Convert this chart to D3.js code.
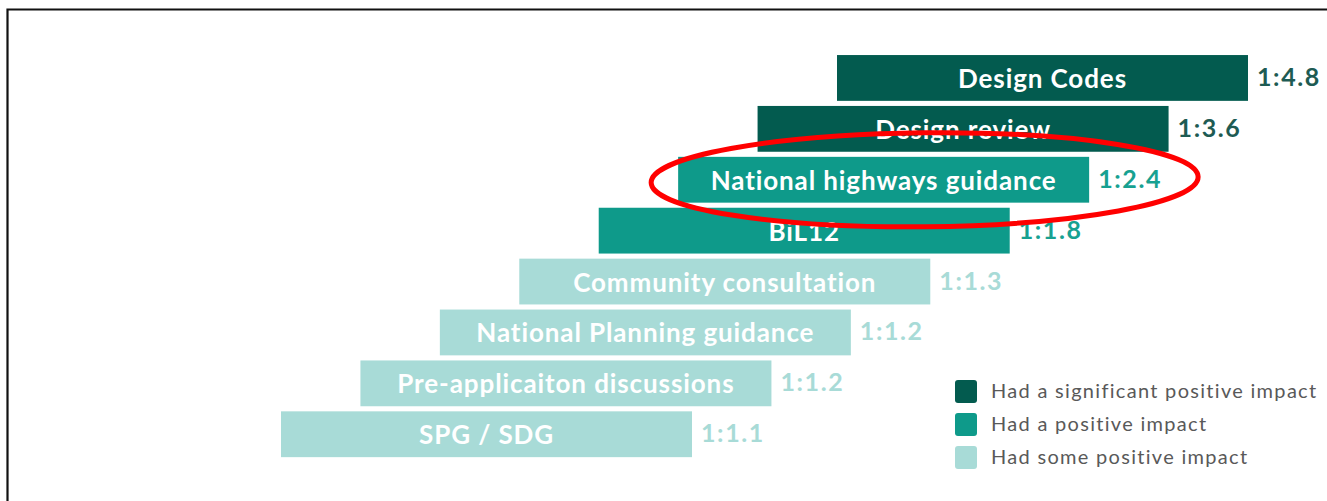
<!DOCTYPE html>
<html>
<head>
<meta charset="utf-8">
<script src="https://cdn.jsdelivr.net/npm/d3@7"></script>
<style>
  body { margin: 0; background: #fff; }
  svg { display: block; }
</style>
</head>
<body>
<div id="chart"></div>
<script>
const categories = [
  "Design Codes",
  "Design review",
  "National highways guidance",
  "BiL12",
  "Community consultation",
  "National Planning guidance",
  "Pre-applicaiton discussions",
  "SPG / SDG"
];
const ratios = ["1:4.8", "1:3.6", "1:2.4", "1:1.8", "1:1.3", "1:1.2", "1:1.2", "1:1.1"];
const impactLevel = [0, 0, 1, 1, 2, 2, 2, 2];
const legendLabels = [
  "Had a significant positive impact",
  "Had a positive impact",
  "Had some positive impact"
];
const highlighted = "National highways guidance";

const W = 1327, H = 501;
const barColors = ["#035b4f", "#0e9a8a", "#a8dbd7"];
const ratioColors = ["#1e5b53", "#17a191", "#a8dbd7"];

const svg = d3.select('#chart')
  .append('svg')
  .attr('width', W)
  .attr('height', H);

// frame (top + left edges only, the rest is cropped off)
svg.append('path')
  .attr('d', `M7.5,${H} L7.5,9.5 L${W},9.5`)
  .attr('fill', 'none')
  .attr('stroke', '#111')
  .attr('stroke-width', 2.2);

const y = d3.scaleBand()
  .domain(categories)
  .range([52.5, 459.7])
  .paddingInner(0.1)
  .paddingOuter(0.05);

// staircase: each row steps left by one unit
const x = d3.scaleLinear()
  .domain([0, categories.length - 1])
  .range([837, 281]);
const barLen = 411;

const rows = categories.map((c, i) => ({
  name: c, ratio: ratios[i], level: impactLevel[i], step: i
}));

const g = svg.append('g');

g.selectAll('rect.bar')
  .data(rows)
  .enter().append('rect')
  .attr('class', 'bar')
  .attr('x', d => x(d.step))
  .attr('y', d => y(d.name))
  .attr('width', barLen)
  .attr('height', y.bandwidth())
  .attr('fill', d => barColors[d.level]);

g.selectAll('text.lbl')
  .data(rows)
  .enter().append('text')
  .attr('class', 'lbl')
  .attr('x', d => x(d.step) + barLen / 2)
  .attr('y', d => y(d.name) + y.bandwidth() / 2 + 10)
  .attr('text-anchor', 'middle')
  .style('font-family', 'Lato, sans-serif')
  .style('font-weight', 'bold')
  .style('font-size', '26px')
  .style('letter-spacing', '0.9px')
  .style('fill', '#fff')
  .text(d => d.name);

g.selectAll('text.ratio')
  .data(rows)
  .enter().append('text')
  .attr('class', 'ratio')
  .attr('x', d => x(d.step) + barLen + 9)
  .attr('y', d => y(d.name) + y.bandwidth() / 2 + 8)
  .style('font-family', 'Lato, sans-serif')
  .style('font-weight', 'bold')
  .style('font-size', '25px')
  .style('letter-spacing', '1.6px')
  .style('fill', d => ratioColors[d.level])
  .text(d => d.ratio);

// legend
const legend = svg.append('g')
  .attr('transform', 'translate(955, 380)');

legend.selectAll('rect')
  .data(legendLabels)
  .enter().append('rect')
  .attr('y', (d, i) => i * 33)
  .attr('width', 22)
  .attr('height', 23)
  .attr('rx', 3)
  .style('fill', (d, i) => barColors[i]);

legend.selectAll('text')
  .data(legendLabels)
  .enter().append('text')
  .attr('x', 36)
  .attr('y', (d, i) => i * 33 + 18)
  .style('font-family', 'Lato, sans-serif')
  .style('font-size', '20px')
  .style('letter-spacing', '1.3px')
  .style('fill', '#595959')
  .text(d => d);

// red highlight ellipse
const hi = rows.find(d => d.name === highlighted);
const hx0 = x(hi.step) - 27;
const hx1 = x(hi.step) + barLen + 109;
const hcy = y(hi.name) + y.bandwidth() / 2;
svg.append('ellipse')
  .attr('cx', (hx0 + hx1) / 2)
  .attr('cy', hcy)
  .attr('rx', (hx1 - hx0) / 2)
  .attr('ry', 47)
  .attr('transform', `rotate(-0.6, ${(hx0 + hx1) / 2}, ${hcy})`)
  .attr('fill', 'none')
  .attr('stroke', '#ff0000')
  .attr('stroke-width', 5);
</script>
</body>
</html>
